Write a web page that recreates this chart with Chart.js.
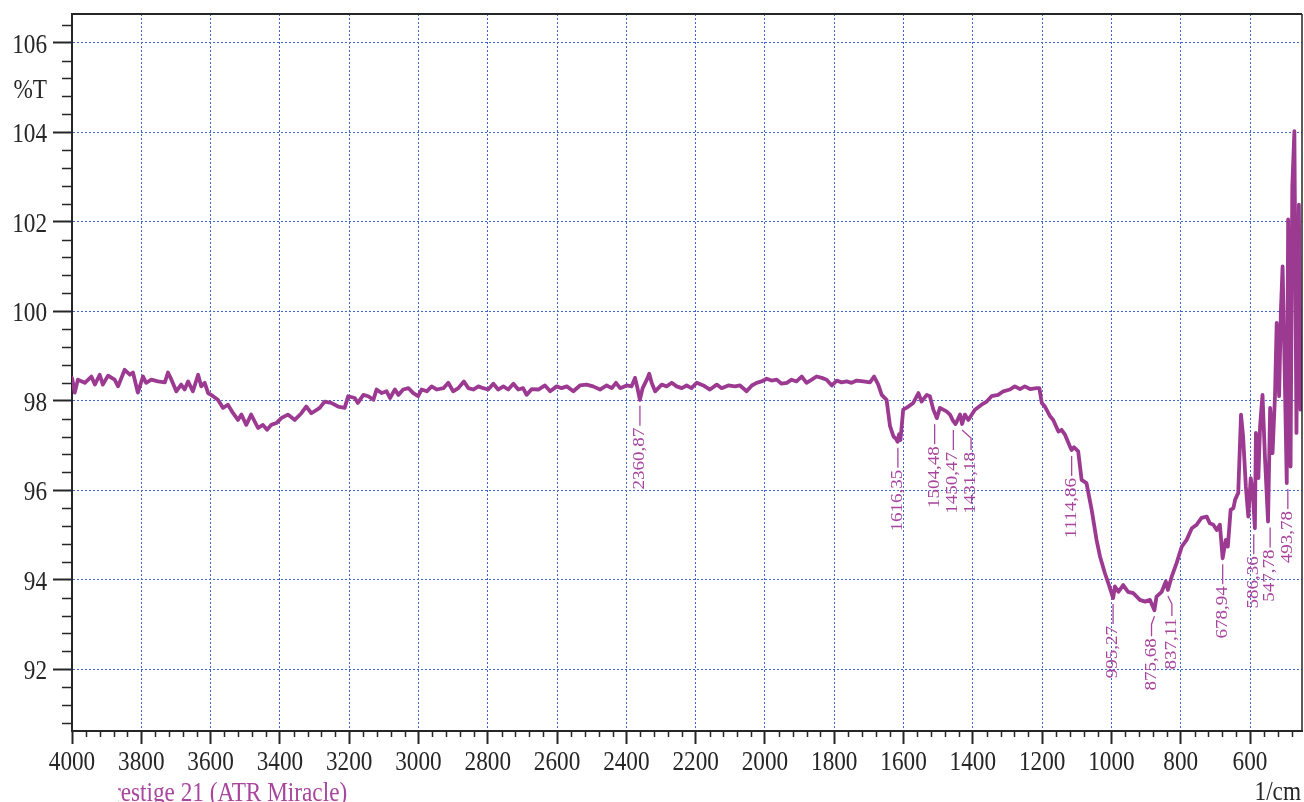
<!DOCTYPE html>
<html lang="en">
<head>
    <meta charset="UTF-8">
    <title>IR spectrum</title>
    <style>
        html, body {
            margin: 0;
            padding: 0;
            background: #fff;
        }

        .container {
            width: 1304px;
            height: 802px;
            position: relative;
        }
    </style>
</head>
<body>
    <div class="container">
        <canvas id="irChart"></canvas>
    </div>

    <script src="https://cdn.jsdelivr.net/npm/chart.js"></script>
    <script>
        // spectrum: wavenumber (1/cm) and %T
        const wavenumbers = [
            4000, 3992, 3983, 3963, 3944, 3934, 3920, 3911, 3896, 3877,
            3867, 3848, 3833, 3824, 3810, 3795, 3786, 3771, 3752, 3732,
            3723, 3713, 3699, 3685, 3675, 3665, 3651, 3636, 3627, 3617,
            3607, 3593, 3579, 3564, 3550, 3535, 3521, 3511, 3497, 3483,
            3463, 3449, 3437, 3425, 3410, 3396, 3377, 3357, 3338, 3324,
            3309, 3285, 3271, 3252, 3232, 3213, 3203, 3184, 3175,
            3159, 3145, 3130, 3121, 3106, 3092, 3082, 3068, 3058, 3044,
            3029, 3015, 3001, 2991, 2976, 2962, 2947, 2928, 2914, 2900,
            2885, 2869, 2856, 2842, 2827, 2813, 2799, 2784, 2770, 2755,
            2741, 2726, 2712, 2698, 2688, 2673, 2654, 2635, 2620, 2601,
            2587, 2572, 2553, 2534, 2515, 2496, 2476, 2457, 2442, 2430,
            2418, 2399, 2385, 2375, 2368, 2361, 2353, 2341, 2334, 2327,
            2317, 2298, 2284, 2269, 2255, 2240, 2226, 2212, 2197, 2178,
            2159, 2139, 2125, 2106, 2087, 2072, 2053, 2038, 2024, 2010,
            1995, 1981, 1966, 1952, 1937, 1923, 1909, 1894, 1880, 1865,
            1851, 1836, 1822, 1807, 1793, 1779, 1764, 1750, 1735, 1716,
            1697, 1685, 1673, 1663, 1649, 1639, 1629, 1622, 1617, 1613,
            1609, 1601,
            1586, 1572, 1557, 1548, 1533, 1524, 1514, 1504, 1495, 1476,
            1466, 1457, 1450, 1446, 1437, 1431, 1423, 1413, 1403, 1394,
            1375, 1360, 1346, 1327, 1312, 1293, 1279, 1264, 1250, 1235,
            1216, 1208, 1201, 1192, 1177, 1168, 1153, 1144, 1134, 1120,
            1115, 1108, 1096, 1086, 1072, 1057, 1043,
            1033, 1019, 1006, 995, 990, 980, 966, 952, 937, 918,
            903, 889, 876, 870, 855, 843, 837, 826, 812, 797,
            783, 768, 754, 740, 725, 716, 706, 696, 687, 679,
            670, 664, 656, 648, 643, 634, 626, 620, 612, 605,
            598, 592, 586, 583, 576, 571, 564, 557, 548, 542,
            535, 528, 523, 516, 511, 506, 501, 494, 490, 483,
            478, 472, 466, 459, 454
        ];
        const transmittance = [
            98.51, 98.18, 98.47, 98.40, 98.54, 98.36, 98.58, 98.36, 98.56, 98.47,
            98.32, 98.69, 98.58, 98.63, 98.18, 98.54, 98.40, 98.47, 98.43, 98.41,
            98.63, 98.47, 98.21, 98.36, 98.25, 98.43, 98.21, 98.58, 98.32, 98.40,
            98.17, 98.10, 98.02, 97.84, 97.91, 97.72, 97.57, 97.69, 97.46, 97.69,
            97.39, 97.46, 97.35, 97.46, 97.50, 97.61, 97.69, 97.57, 97.72, 97.87,
            97.72, 97.84, 97.98, 97.95, 97.87, 97.84, 98.10, 98.06, 97.95,
            98.13, 98.10, 98.02, 98.25, 98.17, 98.21, 98.06, 98.25, 98.13, 98.25,
            98.28, 98.17, 98.10, 98.25, 98.21, 98.32, 98.25, 98.28, 98.40, 98.21,
            98.28, 98.43, 98.28, 98.25, 98.32, 98.28, 98.25, 98.38, 98.25, 98.32,
            98.25, 98.38, 98.25, 98.28, 98.13, 98.26, 98.25, 98.34, 98.21, 98.32,
            98.28, 98.32, 98.21, 98.34, 98.36, 98.32, 98.25, 98.34, 98.28, 98.40,
            98.28, 98.34, 98.32, 98.51, 98.28, 98.02, 98.28, 98.47, 98.60, 98.40,
            98.21, 98.36, 98.32, 98.40, 98.32, 98.28, 98.34, 98.28, 98.40, 98.34,
            98.25, 98.36, 98.28, 98.34, 98.32, 98.34, 98.21, 98.34, 98.40, 98.43,
            98.49, 98.45, 98.47, 98.38, 98.40, 98.47, 98.43, 98.54, 98.40, 98.47,
            98.54, 98.51, 98.47, 98.34, 98.45, 98.41, 98.43, 98.40, 98.45, 98.43,
            98.41, 98.54, 98.36, 98.13, 98.02, 97.43, 97.20, 97.15, 97.08, 97.25,
            97.12, 97.80,
            97.87, 97.95, 98.17, 97.98, 98.13, 98.10, 97.80, 97.61, 97.84, 97.76,
            97.69, 97.55, 97.48, 97.54, 97.69, 97.48, 97.69, 97.57, 97.69, 97.80,
            97.91, 97.98, 98.10, 98.13, 98.21, 98.25, 98.32, 98.26, 98.32, 98.26,
            98.28, 98.28, 97.95, 97.87, 97.65, 97.57, 97.31, 97.35, 97.24, 96.98,
            96.90, 96.96, 96.87, 96.23, 96.16, 95.56, 94.89,
            94.52, 94.15, 93.85, 93.59, 93.85, 93.73, 93.88, 93.73, 93.70, 93.55,
            93.51, 93.55, 93.32, 93.62, 93.73, 93.96, 93.77, 94.07, 94.37, 94.74,
            94.89, 95.15, 95.23, 95.38, 95.41, 95.26, 95.23, 95.11, 95.23, 94.48,
            94.89, 94.74, 95.56, 95.60, 95.79, 95.94, 97.69, 97.20, 96.08, 95.41,
            96.27, 95.94, 95.15, 97.28, 96.27, 97.43, 98.13, 96.75, 95.30, 97.84,
            96.83, 98.10, 99.74, 98.10, 100.00, 101.00, 99.07, 96.16, 102.05, 96.53,
            102.79, 104.02, 97.28, 102.38, 97.80
        ];

        // peak picks
        const peakWavenumbers = [2360.87, 1616.35, 1504.48, 1450.47, 1431.18, 1114.86, 995.27, 875.68, 837.11, 678.94, 586.36, 547.78, 493.78];
        const peakTransmittance = [98.02, 97.08, 97.61, 97.48, 97.48, 96.90, 93.59, 93.32, 93.77, 94.48, 95.15, 95.30, 96.16];
        const peakLabels = ['2360,87', '1616,35', '1504,48', '1450,47', '1431,18', '1114,86', '995,27', '875,68', '837,11', '678,94', '586,36', '547,78', '493,78'];
        // sideways nudge of a few labels (px), as in the print
        const peakLabelShift = [0, 0, -2, -2, 9, 0, 0, -3, 4, 0, -1, 2, 1];

        const xTickValues = [4000, 3800, 3600, 3400, 3200, 3000, 2800, 2600, 2400, 2200, 2000, 1800, 1600, 1400, 1200, 1000, 800, 600];
        const yTickValues = [92, 94, 96, 98, 100, 102, 104, 106];

        const LINE_COLOR = '#9c3a92';
        const LABEL_COLOR = '#a8469e';
        const AXIS_COLOR = '#262626';
        const SERIF = '"Liberation Serif", "DejaVu Serif", serif';
        const SQUEEZE = 0.83;   // the print's text is a bit narrow

        function squeezedText(ctx, text, x, y, align) {
            ctx.save();
            ctx.translate(x, y);
            ctx.scale(SQUEEZE, 1);
            ctx.textAlign = align;
            ctx.fillText(text, 0, 0);
            ctx.restore();
        }

        const spectrumDecor = {
            id: 'spectrumDecor',
            beforeDraw(chart) {
                const ctx = chart.ctx;
                ctx.save();
                ctx.fillStyle = '#fff';
                ctx.fillRect(0, 0, chart.width, chart.height);
                ctx.restore();
            },
            afterDraw(chart) {
                const ctx = chart.ctx;
                const xs = chart.scales.x;
                const ys = chart.scales.y;
                const area = chart.chartArea;

                ctx.save();
                // frame top + right
                ctx.strokeStyle = AXIS_COLOR;
                ctx.lineWidth = 2;
                ctx.beginPath();
                ctx.moveTo(area.left, area.top);
                ctx.lineTo(area.right, area.top);
                ctx.stroke();
                ctx.lineWidth = 1.5;
                ctx.beginPath();
                ctx.moveTo(area.right, area.top);
                ctx.lineTo(area.right, area.bottom);
                ctx.stroke();

                // minor ticks
                ctx.lineWidth = 1.5;
                ctx.beginPath();
                for (let k = 227; k <= 266; k++) {
                    if (k % 5 === 0) continue;
                    const py = Math.round(ys.getPixelForValue(k * 0.4)) + 0.5;
                    ctx.moveTo(area.left - 10, py);
                    ctx.lineTo(area.left, py);
                }
                for (let k = 12; k < 100; k++) {
                    if (k % 5 === 0) continue;
                    const px = Math.round(xs.getPixelForValue(k * 40)) + 0.5;
                    ctx.moveTo(px, area.bottom);
                    ctx.lineTo(px, area.bottom + 6);
                }
                ctx.stroke();

                // tick labels
                ctx.fillStyle = AXIS_COLOR;
                ctx.font = '28px ' + SERIF;
                ctx.textBaseline = 'alphabetic';
                ys.ticks.forEach(t => {
                    squeezedText(ctx, String(t.value), area.left - 25, ys.getPixelForValue(t.value) + 10, 'right');
                });
                xs.ticks.forEach(t => {
                    squeezedText(ctx, String(t.value), xs.getPixelForValue(t.value), area.bottom + 39, 'center');
                });
                squeezedText(ctx, '%T', area.left - 25, 98, 'right');
                squeezedText(ctx, '1/cm', 1301, 800, 'right');

                // instrument caption, cut at the left like the print
                ctx.save();
                ctx.beginPath();
                ctx.rect(118, area.bottom, chart.width, chart.height);
                ctx.clip();
                ctx.fillStyle = LABEL_COLOR;
                ctx.font = '28px ' + SERIF;
                squeezedText(ctx, 'Prestige 21 (ATR Miracle)', 100, 801, 'left');
                ctx.restore();

                // peak labels
                ctx.strokeStyle = LABEL_COLOR;
                ctx.fillStyle = LABEL_COLOR;
                ctx.lineWidth = 1.3;
                ctx.font = '19px ' + SERIF;
                peakWavenumbers.forEach((wn, i) => {
                    const px = xs.getPixelForValue(wn);
                    const lx = px + peakLabelShift[i];
                    const top = ys.getPixelForValue(peakTransmittance[i]) + 6;
                    const bottom = top + 20;
                    ctx.beginPath();
                    if (Math.abs(lx - px) > 2.5) {
                        ctx.moveTo(px, top);
                        ctx.lineTo(lx, top + 8);
                    } else {
                        ctx.moveTo(lx, top);
                    }
                    ctx.lineTo(lx, bottom);
                    ctx.stroke();

                    ctx.save();
                    ctx.translate(lx, bottom + 2);
                    ctx.scale(SQUEEZE, 1);
                    ctx.rotate(-Math.PI / 2);
                    ctx.textAlign = 'right';
                    ctx.textBaseline = 'middle';
                    ctx.fillText(peakLabels[i], 0, 0);
                    ctx.restore();
                });
                ctx.restore();
            }
        };

        const irChart = new Chart(document.getElementById('irChart').getContext('2d'), {
            type: 'line',
            data: {
                datasets: [{
                    label: '%T',
                    data: wavenumbers.map((w, i) => ({ x: w, y: transmittance[i] })),
                    borderColor: LINE_COLOR,
                    borderWidth: 3.8,
                    borderJoinStyle: 'round',
                    borderCapStyle: 'round',
                    pointRadius: 0,
                    tension: 0,
                    fill: false
                }]
            },
            options: {
                responsive: true,
                maintainAspectRatio: false,
                animation: false,
                devicePixelRatio: 1,
                layout: { padding: { top: 14, right: 2, left: 0, bottom: 0 } },
                plugins: {
                    legend: { display: false },
                    tooltip: { enabled: false }
                },
                scales: {
                    x: {
                        type: 'linear',
                        reverse: true,
                        min: 450,
                        max: 4000,
                        afterBuildTicks: scale => {
                            scale.ticks = xTickValues.map(v => ({ value: v }));
                        },
                        afterFit: scale => { scale.height = 71; },
                        ticks: { display: false },
                        grid: {
                            color: '#3f66cc',
                            lineWidth: 1,
                            drawTicks: true,
                            tickLength: 13,
                            tickColor: AXIS_COLOR,
                            tickWidth: 2,
                            tickBorderDash: []
                        },
                        border: { display: true, color: AXIS_COLOR, width: 2, dash: [2, 2] }
                    },
                    y: {
                        type: 'linear',
                        min: 90.62,
                        max: 106.64,
                        afterBuildTicks: scale => {
                            scale.ticks = yTickValues.map(v => ({ value: v }));
                        },
                        afterFit: scale => { scale.width = 72; },
                        ticks: { display: false },
                        grid: {
                            color: '#3f66cc',
                            lineWidth: 1,
                            drawTicks: true,
                            tickLength: 19,
                            tickColor: AXIS_COLOR,
                            tickWidth: 2,
                            tickBorderDash: []
                        },
                        border: { display: true, color: AXIS_COLOR, width: 2, dash: [2, 2] }
                    }
                }
            },
            plugins: [spectrumDecor]
        });
    </script>
</body>
</html>
